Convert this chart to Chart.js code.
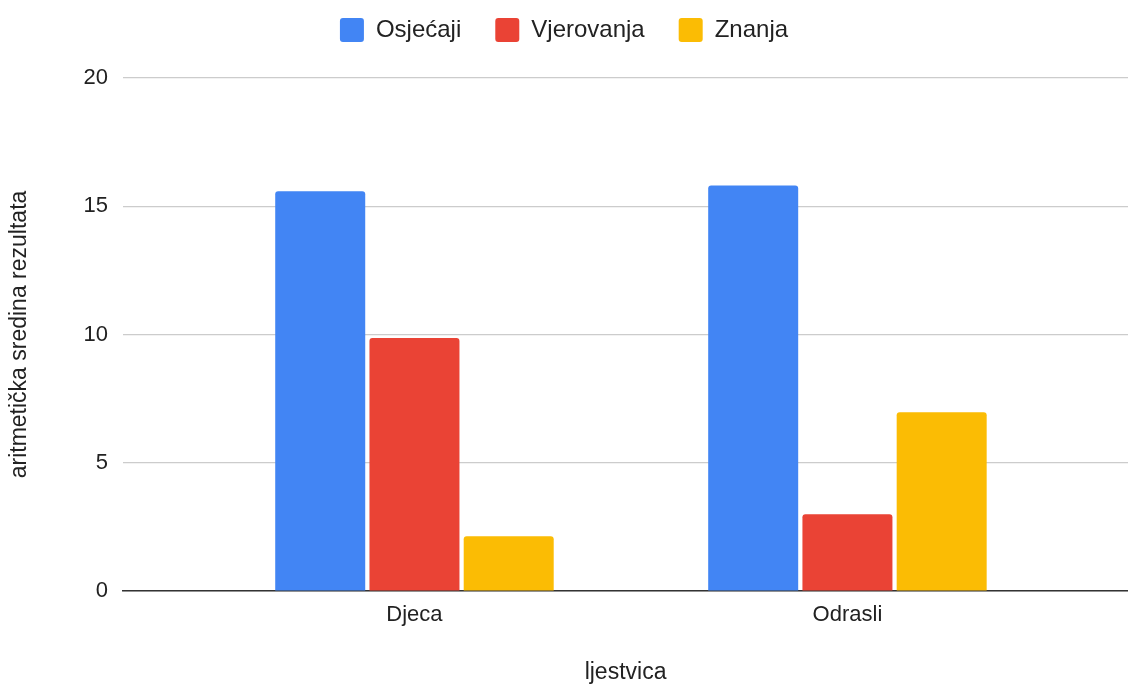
<!DOCTYPE html>
<html lang="hr">
  <head>
    <meta charset="UTF-8" />
    <title>ljestvica</title>
    <style>
      body {
        margin: 0;
        background: #fff;
      }
      #wrap {
        width: 1128px;
        height: 686px;
      }
    </style>
  </head>
  <body>
    <script src="https://cdn.jsdelivr.net/npm/chart.js@4.4.1/dist/chart.umd.min.js"></script>
    <div id="wrap"><canvas id="bar-chart"></canvas></div>
    <script>
      var categories = ["Djeca", "Odrasli"];
      var seriesNames = ["Osjećaji", "Vjerovanja", "Znanja"];
      var osjecaji = [15.58, 15.81];
      var vjerovanja = [9.86, 2.99];
      var znanja = [2.13, 6.97];
      var yTicks = [0, 5, 10, 15, 20];
      var colors = ["#4285F4", "#EA4335", "#FBBC04"];

      var font = "'Liberation Sans', Arial, sans-serif";

      function toPoints(values) {
        return values.map(function (v, i) {
          return { x: i, y: v };
        });
      }

      var seriesValues = [osjecaji, vjerovanja, znanja];
      var datasets = seriesNames.map(function (name, i) {
        return {
          label: name,
          data: toPoints(seriesValues[i]),
          backgroundColor: colors[i],
          borderRadius: { topLeft: 3, topRight: 3 },
          borderSkipped: "bottom",
          categoryPercentage: 0.653,
          barPercentage: 0.955,
        };
      });

      // extra room under the legend before the plot starts
      var legendGap = {
        id: "legendGap",
        beforeInit: function (chart) {
          var fit = chart.legend.fit;
          chart.legend.fit = function () {
            fit.bind(chart.legend)();
            this.height += 26;
          };
        },
      };

      // x runs as a linear axis so the groups sit inside a wider plot, like the original
      var chart = new Chart(document.getElementById("bar-chart"), {
        type: "bar",
        data: { datasets: datasets },
        plugins: [legendGap],
        options: {
          responsive: true,
          maintainAspectRatio: false,
          animation: false,
          layout: { padding: { left: 0, right: 0, top: -16, bottom: 0 } },
          plugins: {
            tooltip: { enabled: false },
            legend: {
              position: "top",
              labels: {
                boxWidth: 24,
                boxHeight: 24,
                useBorderRadius: true,
                borderRadius: 3,
                padding: 34,
                color: "#222",
                font: { family: font, size: 24 },
              },
            },
          },
          scales: {
            x: {
              type: "linear",
              offset: false,
              min: -0.673,
              max: 1.648,
              afterBuildTicks: function (axis) {
                axis.ticks = categories.map(function (c, i) {
                  return { value: i };
                });
              },
              ticks: {
                color: "#222",
                font: { family: font, size: 22 },
                padding: 3,
                maxRotation: 0,
                callback: function (value) {
                  return categories[value];
                },
              },
              grid: { display: false },
              border: { color: "#333", width: 1.5 },
              title: {
                display: true,
                text: "ljestvica",
                color: "#222",
                font: { family: font, size: 23 },
                padding: { top: 27, bottom: 0 },
              },
            },
            y: {
              min: 0,
              max: 20,
              afterBuildTicks: function (axis) {
                axis.ticks = yTicks.map(function (v) {
                  return { value: v };
                });
              },
              ticks: {
                color: "#222",
                font: { family: font, size: 22 },
                padding: 15,
              },
              grid: {
                color: "#cccccc",
                lineWidth: 1.2,
                drawTicks: false,
              },
              border: { display: false },
              title: {
                display: true,
                text: "aritmetička sredina rezultata",
                color: "#222",
                font: { family: font, size: 23 },
                padding: { top: 6, bottom: 35 },
              },
            },
          },
        },
      });
    </script>
  </body>
</html>
